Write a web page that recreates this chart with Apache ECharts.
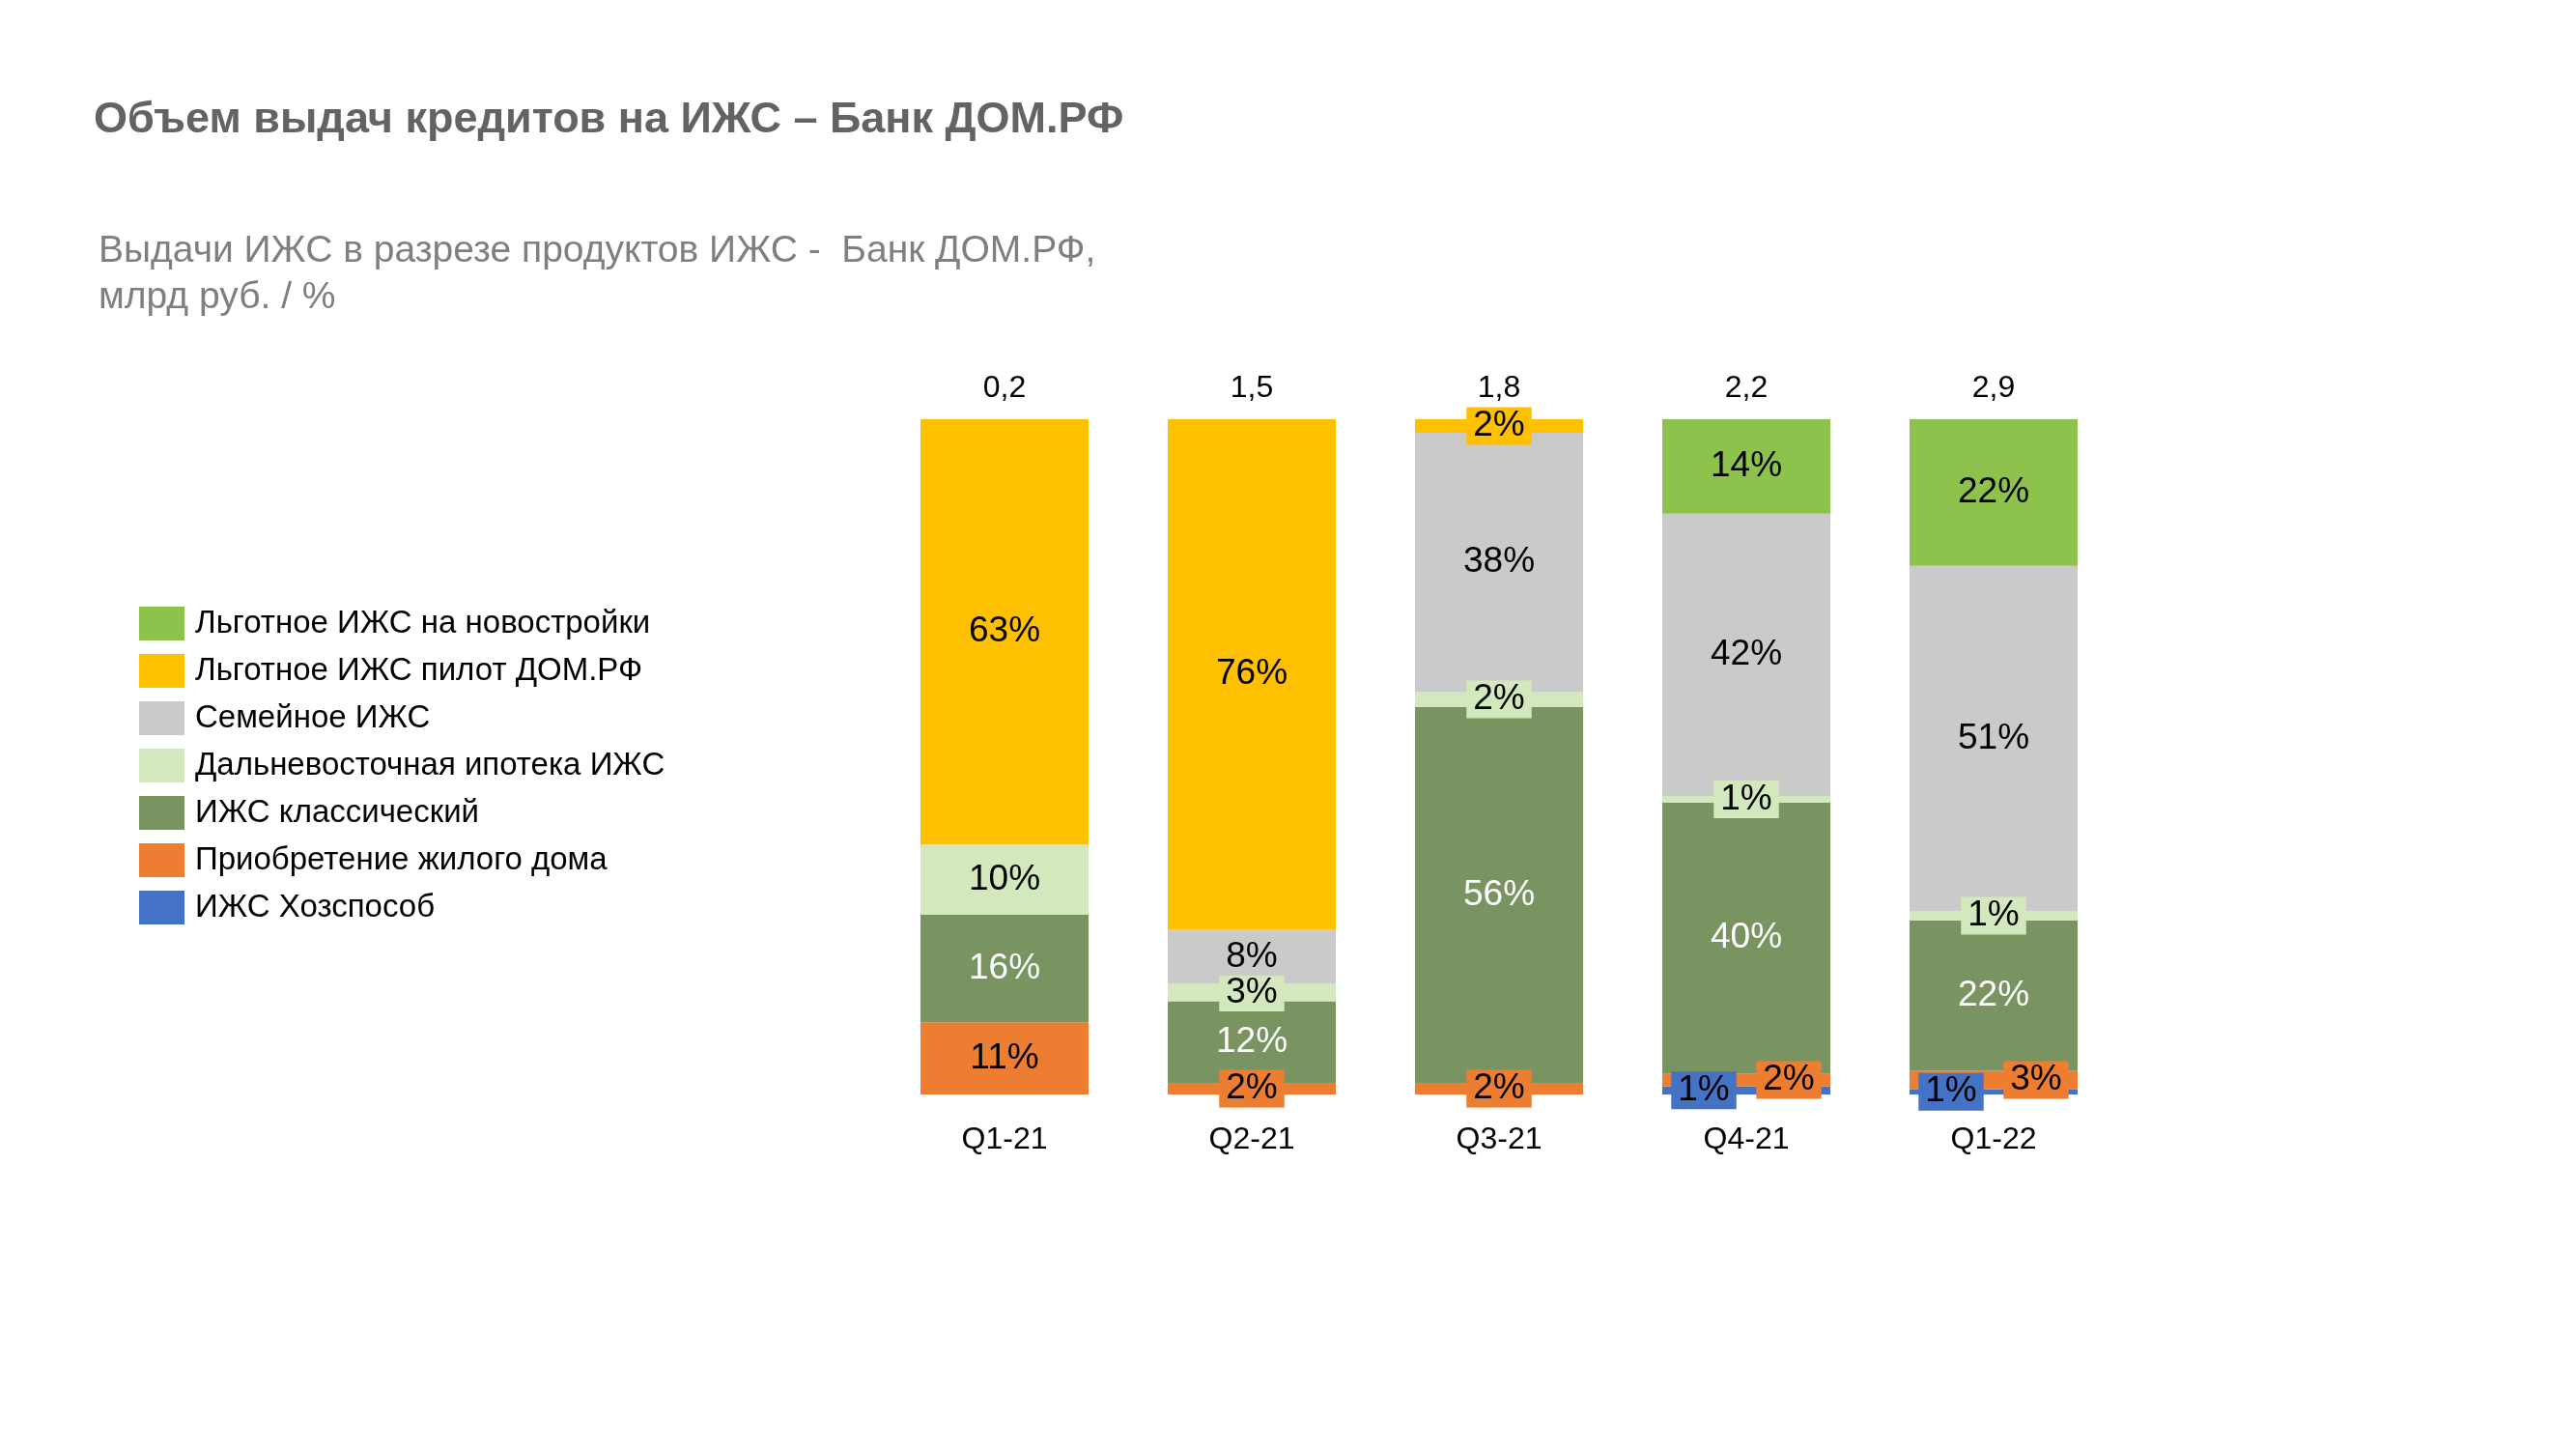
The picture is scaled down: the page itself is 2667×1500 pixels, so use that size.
<!DOCTYPE html>
<html><head><meta charset="utf-8">
<script src="https://cdn.jsdelivr.net/npm/echarts@6/dist/echarts.min.js"></script>
<style>html,body{margin:0;padding:0;background:#fff}#c{width:2667px;height:1500px}</style>
</head><body><div id="c"></div>
<script>
// ---- data ----
const categories = ['Q1-21', 'Q2-21', 'Q3-21', 'Q4-21', 'Q1-22'];
const totals = [0.2, 1.5, 1.8, 2.2, 2.9]; // млрд руб.
const seriesNames = [
  'ИЖС Хозспособ',
  'Приобретение жилого дома',
  'ИЖС классический',
  'Дальневосточная ипотека ИЖС',
  'Семейное ИЖС',
  'Льготное ИЖС пилот ДОМ.РФ',
  'Льготное ИЖС на новостройки'
];
const hozsposob        = [0,    0,    0,    1.2,  0.8];
const priobretenie     = [10.7, 1.7,  1.7,  1.9,  2.7];
const klassicheskiy    = [15.9, 12.1, 55.7, 40.1, 22.3];
const dalnevostochnaya = [10.4, 2.6,  2.2,  1.0,  1.3];
const semeynoe         = [0,    8.0,  38.4, 41.8, 51.2];
const pilot            = [63.0, 75.6, 2.0,  0,    0];
const novostroyki      = [0,    0,    0,    14.0, 21.7];

// ---- styles ----
const seriesValues = [hozsposob, priobretenie, klassicheskiy, dalnevostochnaya, semeynoe, pilot, novostroyki];
const colors = ['#4472C4', '#ED7D31', '#7A9461', '#D3E9BD', '#CACACA', '#FFC000', '#8DC34D'];
const textColors = ['#000', '#000', '#fff', '#000', '#000', '#000', '#000'];
const FONT = '"Liberation Sans", Arial, sans-serif';

const series = seriesValues.map((vals, si) => ({
  name: seriesNames[si],
  type: 'bar',
  stack: 'total',
  barWidth: 174,
  xAxisIndex: 0,
  itemStyle: { color: colors[si] },
  label: {
    show: true,
    position: 'inside',
    fontFamily: FONT,
    fontSize: 37,
    color: textColors[si],
    backgroundColor: colors[si],
    padding: [2, 7, 0, 7],
    formatter: p => Math.round(p.value) + '%'
  },
  data: vals.map((v, ci) => {
    const item = { value: v };
    if (v <= 0) item.label = { show: false };
    else if (si === 0) item.label = { offset: [-44, 0] };
    else if (si === 1 && hozsposob[ci] > 0) item.label = { offset: [44, 0] };
    return item;
  })
}));

const chart = echarts.init(document.getElementById('c'), null, { renderer: 'canvas' });
chart.setOption({
  backgroundColor: '#fff',
  animation: false,
  textStyle: { fontFamily: FONT },
  title: [
    {
      text: 'Объем выдач кредитов на ИЖС – Банк ДОМ.РФ',
      left: 92, top: 96,
      textStyle: { fontFamily: FONT, fontSize: 45, fontWeight: 'bold', color: '#636363', lineHeight: 48 }
    },
    {
      text: 'Выдачи ИЖС в разрезе продуктов ИЖС -  Банк ДОМ.РФ,\nмлрд руб. / %',
      left: 97, top: 231,
      textStyle: { fontFamily: FONT, fontSize: 39, fontWeight: 'normal', color: '#7F7F7F', lineHeight: 48 }
    }
  ],
  legend: {
    orient: 'vertical',
    left: 139, top: 623,
    itemWidth: 47, itemHeight: 35, itemGap: 14,
    icon: 'rect',
    data: seriesNames.slice().reverse(),
    textStyle: { fontFamily: FONT, fontSize: 33, color: '#000', lineHeight: 35, padding: [0, 0, 0, 6] }
  },
  grid: { left: 912, right: 475, top: 434, bottom: 367, containLabel: false },
  xAxis: [
    {
      type: 'category', data: categories, position: 'bottom',
      axisLine: { show: false }, axisTick: { show: false },
      axisLabel: { fontFamily: FONT, fontSize: 32, color: '#000', margin: 31 }
    },
    {
      type: 'category', data: categories, position: 'top',
      axisLine: { show: false }, axisTick: { show: false },
      axisLabel: {
        fontFamily: FONT, fontSize: 32, color: '#000', margin: 16,
        formatter: (v, i) => totals[i].toFixed(1).replace('.', ',')
      }
    }
  ],
  yAxis: { type: 'value', min: 0, max: 100, show: false },
  series: series
});
</script></body></html>
